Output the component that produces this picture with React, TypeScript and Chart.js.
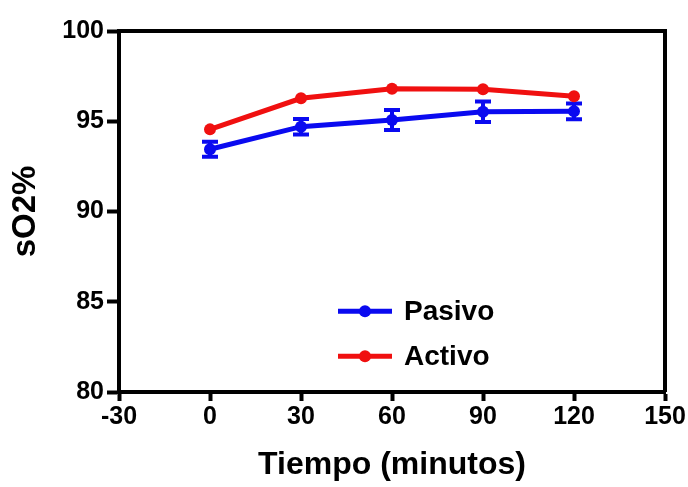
import React, { useEffect, useRef } from "react";
import { Chart, registerables } from "chart.js";

Chart.register(...registerables);

const times = [0, 30, 60, 90, 120];
const pasivo = [93.45, 94.7, 95.07, 95.53, 95.55];
const pasivoErr = [0.42, 0.43, 0.55, 0.57, 0.44];
const activo = [94.55, 96.27, 96.8, 96.77, 96.38];
const xTicks = [-30, 0, 30, 60, 90, 120, 150];
const yTicks = [80, 85, 90, 95, 100];
const seriesNames = ["Pasivo", "Activo"];
const seriesColors = ["#0a0af0", "#f01010"];

const FONT = "'Liberation Sans', Arial, sans-serif";

const errorBarPlugin = {
  id: "errorBars",
  beforeDatasetsDraw(chart: any) {
    const ctx = chart.ctx;
    const xs = chart.scales.x;
    const ys = chart.scales.y;
    ctx.save();
    ctx.strokeStyle = seriesColors[0];
    ctx.lineWidth = 4;
    times.forEach((t, i) => {
      const x = xs.getPixelForValue(t);
      const yHi = ys.getPixelForValue(pasivo[i] + pasivoErr[i]);
      const yLo = ys.getPixelForValue(pasivo[i] - pasivoErr[i]);
      ctx.beginPath();
      ctx.moveTo(x, yHi);
      ctx.lineTo(x, yLo);
      ctx.moveTo(x - 8, yHi);
      ctx.lineTo(x + 8, yHi);
      ctx.moveTo(x - 8, yLo);
      ctx.lineTo(x + 8, yLo);
      ctx.stroke();
    });
    ctx.restore();
  },
};

const framePlugin = {
  id: "frame",
  afterDraw(chart: any) {
    const ctx = chart.ctx;
    const a = chart.chartArea;
    ctx.save();
    ctx.strokeStyle = "#000";
    ctx.lineWidth = 4;
    ctx.beginPath();
    ctx.moveTo(a.left, a.top);
    ctx.lineTo(a.right, a.top);
    ctx.lineTo(a.right, a.bottom);
    ctx.stroke();
    // legend
    const xs = chart.scales.x;
    const ys = chart.scales.y;
    const lx0 = xs.getPixelForValue(42.2);
    const lx1 = xs.getPixelForValue(60);
    const rows = [ys.getPixelForValue(84.48), ys.getPixelForValue(81.98)];
    rows.forEach((y, i) => {
      ctx.strokeStyle = seriesColors[i];
      ctx.fillStyle = seriesColors[i];
      ctx.lineWidth = 5;
      ctx.beginPath();
      ctx.moveTo(lx0, y);
      ctx.lineTo(lx1, y);
      ctx.stroke();
      ctx.beginPath();
      ctx.arc((lx0 + lx1) / 2, y, 6, 0, Math.PI * 2);
      ctx.fill();
      ctx.fillStyle = "#000";
      ctx.font = `bold 28px ${FONT}`;
      ctx.textBaseline = "middle";
      ctx.textAlign = "left";
      ctx.fillText(seriesNames[i], lx1 + 12, y + 1);
    });
    ctx.restore();
  },
};

export default function App() {
  const ref = useRef<HTMLCanvasElement>(null);
  useEffect(() => {
    if (!ref.current) return;
    const chart = new Chart(ref.current, {
      type: "line",
      data: {
        datasets: [
          {
            label: seriesNames[0],
            data: times.map((t, i) => ({ x: t, y: pasivo[i] })),
            borderColor: seriesColors[0],
            backgroundColor: seriesColors[0],
            borderWidth: 5,
            pointRadius: 6,
            pointBorderWidth: 0,
            order: 1,
          },
          {
            label: seriesNames[1],
            data: times.map((t, i) => ({ x: t, y: activo[i] })),
            borderColor: seriesColors[1],
            backgroundColor: seriesColors[1],
            borderWidth: 5,
            pointRadius: 6,
            pointBorderWidth: 0,
            order: 0,
          },
        ],
      },
      options: {
        responsive: false,
        animation: false,
        layout: { padding: { left: 0, right: 23, top: 31, bottom: 0 } },
        plugins: { legend: { display: false }, tooltip: { enabled: false } },
        scales: {
          x: {
            type: "linear",
            min: -30,
            max: 150,
            afterBuildTicks: (s: any) => {
              s.ticks = xTicks.map((v) => ({ value: v }));
            },
            afterFit: (s: any) => {
              s.height = 95;
            },
            border: { display: true, color: "#000", width: 4 },
            grid: {
              drawOnChartArea: false,
              drawTicks: true,
              tickLength: 9,
              tickWidth: 4,
              tickColor: "#000",
            },
            ticks: {
              color: "#000",
              font: { family: FONT, size: 25, weight: "bold" },
              padding: 1,
              maxRotation: 0,
            },
            title: {
              display: true,
              text: "Tiempo (minutos)",
              color: "#000",
              font: { family: FONT, size: 32, weight: "bold" },
              padding: { top: 8, bottom: 3 },
            },
          },
          y: {
            type: "linear",
            min: 80,
            max: 100,
            afterBuildTicks: (s: any) => {
              s.ticks = yTicks.map((v) => ({ value: v }));
            },
            afterFit: (s: any) => {
              s.width = 119;
            },
            border: { display: true, color: "#000", width: 4 },
            grid: {
              drawOnChartArea: false,
              drawTicks: true,
              tickLength: 12,
              tickWidth: 4,
              tickColor: "#000",
            },
            ticks: {
              color: "#000",
              font: { family: FONT, size: 25, weight: "bold" },
              padding: 3,
            },
            title: {
              display: true,
              text: "sO2%",
              color: "#000",
              font: { family: FONT, size: 33, weight: "bold" },
              padding: { top: 6, bottom: 0 },
            },
          },
        },
      },
      plugins: [errorBarPlugin, framePlugin],
    } as any);
    return () => chart.destroy();
  }, []);
  return (
    <div style={{ position: "fixed", left: 0, top: 0, width: 688, height: 487, background: "#fff" }}>
      <canvas ref={ref} width={688} height={487} style={{ display: "block" }} />
    </div>
  );
}
